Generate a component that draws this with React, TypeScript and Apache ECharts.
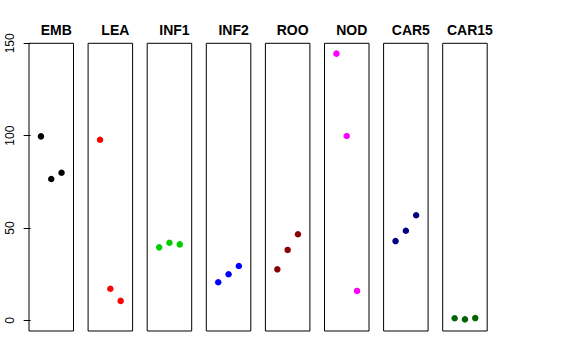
import React, { useEffect, useRef } from "react";
import * as echarts from "echarts";

const panels = ["EMB", "LEA", "INF1", "INF2", "ROO", "NOD", "CAR5", "CAR15"];
const xPositions = [1, 2, 3];
const embValues = [99.6, 76.5, 79.9];
const leaValues = [97.8, 17.1, 10.5];
const inf1Values = [39.5, 42.0, 41.1];
const inf2Values = [20.6, 24.9, 29.4];
const rooValues = [27.6, 38.1, 46.6];
const nodValues = [144.4, 99.8, 15.9];
const car5Values = [42.9, 48.5, 56.9];
const car15Values = [1.1, 0.5, 1.2];
const panelValues = [embValues, leaValues, inf1Values, inf2Values, rooValues, nodValues, car5Values, car15Values];
const panelColors = ["#000000", "#FF0000", "#00CD00", "#0000FF", "#8B0000", "#FF00FF", "#000080", "#006400"];
const yTicks = [0, 50, 100, 150];

export default function App() {
  const ref = useRef<HTMLDivElement>(null);
  useEffect(() => {
    if (!ref.current) return;
    const chart = echarts.init(ref.current, null, { renderer: "svg" });
    const left0 = 29;
    const step = 59.1;
    const w = 44.5;
    const top = 43.3;
    const height = 287.7;
    const grids = panels.map((_, i) => ({
      left: left0 + step * i,
      top,
      width: w,
      height,
      show: true,
      borderColor: "#000",
      borderWidth: 1,
      backgroundColor: "transparent",
    }));
    const xAxes = panels.map((_, i) => ({
      type: "value",
      gridIndex: i,
      min: -0.16,
      max: 4.16,
      show: false,
    }));
    const yAxes = panels.map((_, i) => ({
      type: "value",
      gridIndex: i,
      min: -5.8,
      max: 150,
      show: i === 0,
      splitLine: { show: false },
      axisLine: { show: false },
      axisTick: {
        show: true,
        customValues: yTicks,
        length: 7,
        lineStyle: { color: "#000", width: 1 },
      },
      axisLabel: {
        show: true,
        customValues: yTicks,
        rotate: 90,
        margin: 13,
        color: "#000",
        fontSize: 12,
        fontFamily: "Liberation Sans, Arial, sans-serif",
      },
    }));
    const titles = panels.map((name, i) => ({
      text: name,
      left: left0 + step * i + w / 2,
      top: 18,
      textAlign: "center",
      textStyle: {
        fontSize: 14,
        fontWeight: "bold",
        color: "#000",
        fontFamily: "Liberation Sans, Arial, sans-serif",
      },
    }));
    const series = panels.map((name, i) => ({
      type: "scatter",
      name,
      xAxisIndex: i,
      yAxisIndex: i,
      symbol: "circle",
      symbolSize: 6.5,
      itemStyle: { color: panelColors[i], opacity: 1 },
      data: xPositions.map((x, j) => [x, panelValues[i][j]]),
    }));
    chart.setOption({
      animation: false,
      backgroundColor: "#fff",
      title: titles,
      grid: grids,
      xAxis: xAxes,
      yAxis: yAxes,
      series,
    });
    return () => chart.dispose();
  }, []);
  return (
    <div
      ref={ref}
      style={{ position: "fixed", left: 0, top: 0, width: 576, height: 360 }}
    />
  );
}
